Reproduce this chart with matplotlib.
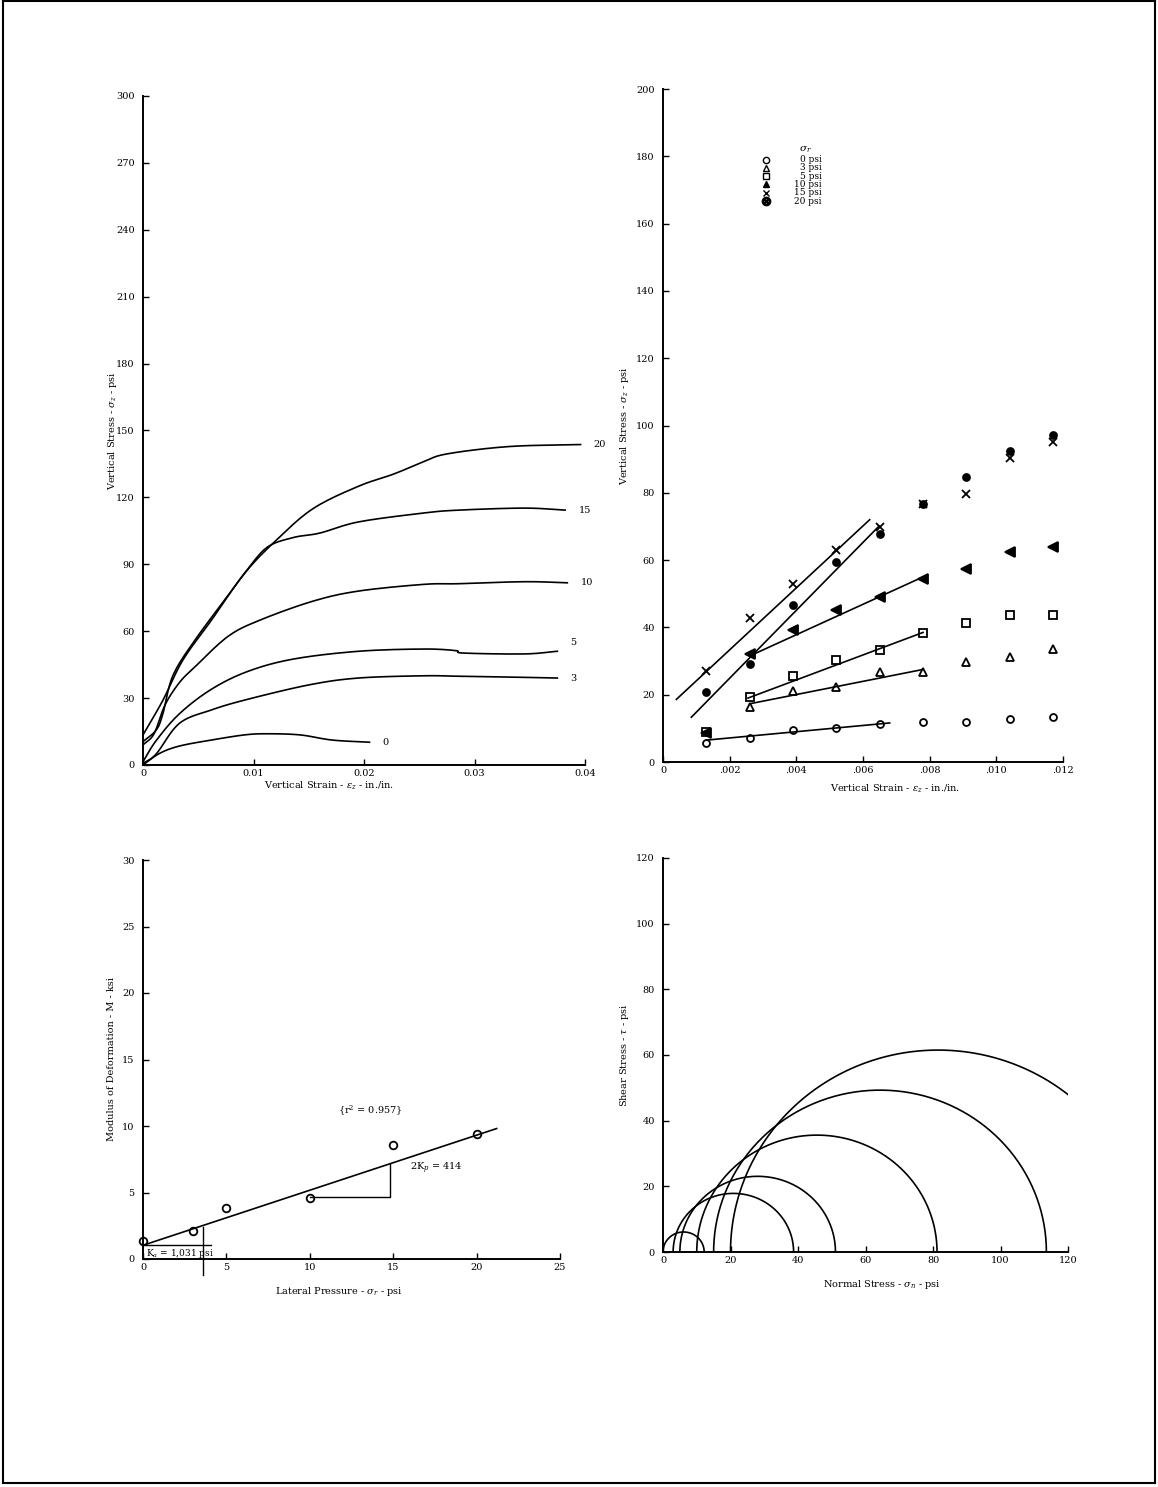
import numpy as np
import matplotlib
matplotlib.use("Agg")
import matplotlib.pyplot as plt
from matplotlib.lines import Line2D

plt.rcParams['font.family'] = ['DejaVu Serif']
plt.rcParams['mathtext.fontset'] = 'dejavuserif'
plt.rcParams['font.size'] = 7

# ---------------- stress-strain curves (upper left) ----------------
curve_labels = ["0", "3", "5", "10", "15", "20"]
strain_0 = [0, .0015, .0033, .0062, .0092, .0112, .0142, .0171, .0205]
stress_0 = [0, 5.2, 8.5, 11.2, 13.5, 14.0, 13.5, 11.2, 10.2]
strain_3 = [0, .0012, .0033, .0062, .0095, .0151, .0195, .0254, .0286, .0345, .0375]
stress_3 = [0.7, 5, 18.7, 24.7, 29.5, 36, 39, 40, 39.8, 39.3, 39]
strain_5 = [0, .0012, .0033, .0062, .0095, .0136, .0195, .0254, .0283, .0290, .0345, .0375]
stress_5 = [1.5, 11, 23, 34, 42, 47.5, 51, 52, 51.3, 50.2, 49.8, 51]
strain_10 = [0, .001, .002, .0033, .0047, .0077, .0106, .0154, .0195, .0254, .0286, .0345, .0384]
stress_10 = [9, 14, 27, 37, 44, 57.7, 65, 73.5, 78, 81, 81.3, 82.2, 81.7]
strain_15 = [0, .0012, .0018, .0027, .0047, .0077, .0092, .0112, .0136, .016, .0195,
             .0254, .0286, .0345, .0382]
stress_15 = [10.5, 15.7, 23, 40, 56, 76, 86, 97.5, 102, 104, 109, 113, 114.3, 115.2, 114.3]
strain_20 = [0, .0018, .0036, .0062, .0092, .0121, .0154, .0195, .0227, .0254, .0275,
             .0331, .0396]
stress_20 = [13.5, 29, 47, 65, 86, 101, 115, 125, 130.5, 136, 139.5, 142.8, 143.7]

# ---------------- test points (upper right) ----------------
point_strain = [.0013, .0026, .0039, .0052, .0065, .0078, .0091, .0104, .0117]
pts_0 = [5.5, 7.2, 9.6, 10.1, 11.4, 11.9, 11.9, 12.9, 13.4]
pts_3 = [None, 16.3, 21.0, 22.3, 26.8, 26.8, 29.6, 31.1, 33.7]
pts_5 = [8.9, 19.3, 25.5, 30.2, 33.2, 38.2, 41.3, 43.6, 43.8]
pts_10 = [8.7, 32.2, 39.3, 45.1, 49.1, 54.4, 57.3, 62.5, 64.0]
pts_15 = [27.0, 42.7, 53.0, 63.0, 69.9, 76.6, 79.5, 90.2, 95.2]
pts_20 = [20.7, 29.2, 46.7, 59.3, 67.9, 76.6, 84.6, 92.5, 97.2]
legend_labels = ["0 psi", "3 psi", "5 psi", "10 psi", "15 psi", "20 psi"]

# straight-line fits over the initial portion of each test
fit_strain_start = [.0013, .0026, .00255, .0026, .0004, .00085]
fit_strain_end = [.0068, .0078, .0078, .0078, .0062, .00648]
fit_stress_start = [6.5, 17.3, 19.0, 31.5, 18.6, 13.3]
fit_stress_end = [11.6, 27.5, 38.5, 55.0, 72.0, 70.1]

# ---------------- modulus vs lateral pressure (lower left) ----------------
lateral_pressure = [0, 3, 5, 10, 15, 20]
modulus_ksi = [1.34, 2.1, 3.86, 4.57, 8.6, 9.4]
K_a_ksi = 1.031          # intercept, 1,031 psi
slope_2Kp = 0.414        # ksi per psi (2K = 414)
r_squared = 0.957

# ---------------- Mohr circles (lower right) ----------------
sigma3 = [0, 3, 5, 10, 15, 20]
sigma1 = [12.2, 38.7, 51.1, 81.2, 113.6, 143.0]

W, H = 1158, 1487
fig = plt.figure(figsize=(W / 100, H / 100), dpi=100)
fig.patch.set_facecolor('white')


def rect(x0, x1, ytop, ybot):
    return [x0 / W, 1 - ybot / H, (x1 - x0) / W, (ybot - ytop) / H]


def style(ax):
    for s in ('top', 'right'):
        ax.spines[s].set_visible(False)
    for s in ('left', 'bottom'):
        ax.spines[s].set_linewidth(1.4)
    ax.tick_params(direction='in', length=4, width=1, labelsize=7)
    ax.tick_params(axis='x', pad=3)
    ax.tick_params(axis='y', pad=6)
    ax.set_facecolor('none')


def catmull_rom(x, y, n=12):
    """Smooth curve passing through every (x, y) point."""
    p = np.column_stack([x, y]).astype(float)
    p = np.vstack([2 * p[0] - p[1], p, 2 * p[-1] - p[-2]])
    out = []
    t = np.linspace(0, 1, n, endpoint=False)[:, None]
    for i in range(1, len(p) - 2):
        p0, p1, p2, p3 = p[i - 1], p[i], p[i + 1], p[i + 2]
        seg = 0.5 * ((2 * p1) + (-p0 + p2) * t + (2 * p0 - 5 * p1 + 4 * p2 - p3) * t ** 2
                     + (-p0 + 3 * p1 - 3 * p2 + p3) * t ** 3)
        out.append(seg)
    out.append(p[-2][None, :])
    out = np.vstack(out)
    return out[:, 0], out[:, 1]


LW = 1.2

# ===== upper left =====
ax1 = fig.add_axes(rect(143, 585, 96, 765))
style(ax1)
curves = [(strain_0, stress_0), (strain_3, stress_3), (strain_5, stress_5),
          (strain_10, stress_10), (strain_15, stress_15), (strain_20, stress_20)]
for (sx, sy), lab in zip(curves, curve_labels):
    cx, cy = catmull_rom(sx, sy)
    ax1.plot(cx, cy, color='black', lw=LW)
    ax1.text(sx[-1] + 0.0012, sy[-1] + (4 if lab == '5' else 0), lab,
             ha='left', va='center', fontsize=7)
ax1.set_xlim(0, 0.04)
ax1.set_ylim(0, 300)
ax1.set_xticks([0, 0.01, 0.02, 0.03, 0.04])
ax1.set_xticklabels(["0", "0.01", "0.02", "0.03", "0.04"])
ax1.set_yticks(np.arange(0, 301, 30))
ax1.set_ylabel(r"Vertical Stress - $\sigma_z$ - psi", fontsize=7)
ax1.yaxis.set_label_coords(-0.055, 0.5)
ax1.set_xlabel(r"Vertical Strain - $\epsilon_z$ - in./in.", fontsize=7)
ax1.xaxis.set_label_coords(0.42, -0.022)

# ===== upper right =====
ax2 = fig.add_axes(rect(663, 1063, 89, 762))
style(ax2)
series = [pts_0, pts_3, pts_5, pts_10, pts_15, pts_20]
markers = ['o', '^', 's', '<', 'x', 'o']
fills = ['none', 'none', 'none', 'black', 'black', 'black']
sizes = [5, 6, 6, 6.5, 5.5, 5]
for vals, m, fc, ms in zip(series, markers, fills, sizes):
    xs = [x for x, v in zip(point_strain, vals) if v is not None]
    ys = [v for v in vals if v is not None]
    ax2.plot(xs, ys, linestyle='none', marker=m, markersize=ms,
             markerfacecolor=fc, markeredgecolor='black', markeredgewidth=1.3)
for xs0, xs1, ys0, ys1 in zip(fit_strain_start, fit_strain_end,
                              fit_stress_start, fit_stress_end):
    ax2.plot([xs0, xs1], [ys0, ys1], color='black', lw=LW)
ax2.set_xlim(0, 0.012)
ax2.set_ylim(0, 200)
ax2.set_xticks(np.arange(0, 0.0121, 0.002))
ax2.set_xticklabels(["0", ".002", ".004", ".006", ".008", ".010", ".012"])
ax2.set_yticks(np.arange(0, 201, 20))
ax2.set_ylabel(r"Vertical Stress - $\sigma_z$ - psi", fontsize=7)
ax2.yaxis.set_label_coords(-0.08, 0.5)
ax2.set_xlabel(r"Vertical Strain - $\epsilon_z$ - in./in.", fontsize=7)
ax2.xaxis.set_label_coords(0.58, -0.03)

# legend block
ax2.text(0.355, 0.91, r"$\sigma_r$", transform=ax2.transAxes, fontsize=7.5,
         ha='center', va='center')
leg_markers = ['o', '^', 's', '^', 'x', r'$\otimes$']
leg_fills = ['none', 'none', 'none', 'black', 'black', 'black']
for i, (lab, m, fc) in enumerate(zip(legend_labels, leg_markers, leg_fills)):
    y = 0.895 - i * 0.0123
    ax2.plot([0.2575], [y], transform=ax2.transAxes, marker=m,
             markersize=4.5 if m != r'$\otimes$' else 6,
             markerfacecolor=fc, markeredgecolor='black', markeredgewidth=1.0,
             linestyle='none', clip_on=False)
    ax2.text(0.397, y, lab, transform=ax2.transAxes, fontsize=6.5,
             ha='right', va='center')

# ===== lower left =====
ax3 = fig.add_axes(rect(143, 560, 860, 1259))
style(ax3)
ax3.plot(lateral_pressure, modulus_ksi, linestyle='none', marker='o',
         markersize=5.5, markerfacecolor='none', markeredgecolor='black',
         markeredgewidth=1.3, clip_on=False)
xf = np.array([0, 21.2])
ax3.plot(xf, K_a_ksi + slope_2Kp * xf, color='black', lw=LW)
# slope triangle
x_tri0, x_tri1 = 10, 14.8
y_tri = K_a_ksi + slope_2Kp * x_tri0 - 0.5
ax3.plot([x_tri0, x_tri1, x_tri1],
         [y_tri, y_tri, K_a_ksi + slope_2Kp * x_tri1], color='black', lw=1.0)
ax3.text(16.0, 6.8, r"2K$_p$ = 414", fontsize=7, ha='left', va='center')
# intercept marker
ax3.plot([0, 4.1], [K_a_ksi, K_a_ksi], color='black', lw=1.0)
ax3.plot([3.6, 3.6], [2.4, -1.2], color='black', lw=1.0, clip_on=False)
ax3.text(0.15, 0.42, r"K$_a$ = 1,031 psi", fontsize=6.5, ha='left', va='center')
ax3.text(13.6, 11.1, r"$\{$r$^2$ = %.3f$\}$" % r_squared, fontsize=7,
         ha='center', va='center')
ax3.set_xlim(0, 25)
ax3.set_ylim(0, 30)
ax3.set_xticks(np.arange(0, 26, 5))
ax3.set_yticks(np.arange(0, 31, 5))
ax3.set_ylabel(r"Modulus of Deformation - M - ksi", fontsize=7)
ax3.yaxis.set_label_coords(-0.065, 0.5)
ax3.set_xlabel(r"Lateral Pressure - $\sigma_r$ - psi", fontsize=7)
ax3.xaxis.set_label_coords(0.47, -0.065)

# ===== lower right =====
ax4 = fig.add_axes(rect(663, 1068, 858, 1252))
style(ax4)
theta = np.linspace(0, np.pi, 300)
for s3, s1 in zip(sigma3, sigma1):
    c = (s1 + s3) / 2
    r = (s1 - s3) / 2
    ax4.plot(c + r * np.cos(theta), r * np.sin(theta), color='black', lw=LW)
ax4.set_xlim(0, 120)
ax4.set_ylim(0, 120)
ax4.set_xticks(np.arange(0, 121, 20))
ax4.set_yticks(np.arange(0, 121, 20))
ax4.set_ylabel(r"Shear Stress - $\tau$ - psi", fontsize=7)
ax4.yaxis.set_label_coords(-0.08, 0.5)
ax4.set_xlabel(r"Normal Stress - $\sigma_n$ - psi", fontsize=7)
ax4.xaxis.set_label_coords(0.54, -0.065)

# page frame
frame = dict(transform=fig.transFigure, color='black', lw=1.5)
fig.add_artist(Line2D([0.003, 0.003], [0.003, 0.999], **frame))
fig.add_artist(Line2D([0.003, 0.997], [0.003, 0.003], **frame))
fig.add_artist(Line2D([0.997, 0.997], [0.003, 0.999], **frame))
fig.add_artist(Line2D([0.003, 0.997], [0.999, 0.999], **frame))

fig.savefig("out.png", dpi=100)
